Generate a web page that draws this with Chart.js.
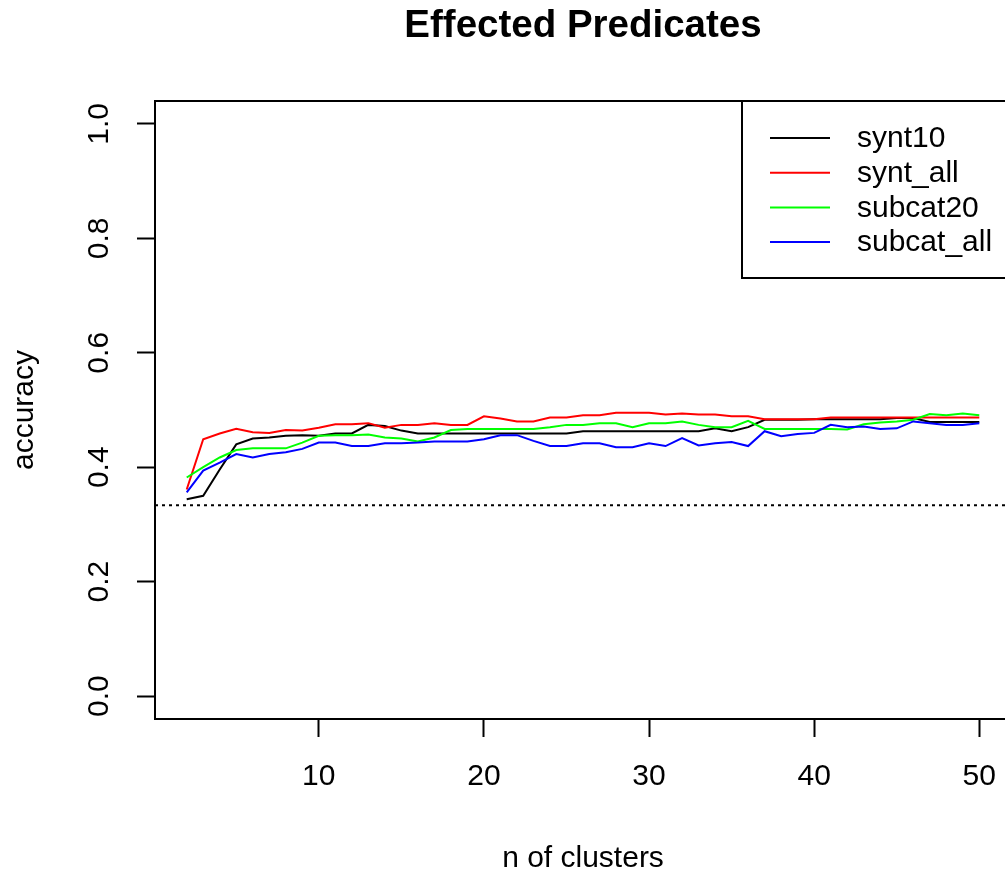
<!DOCTYPE html>
<html>
<head>
<meta charset="utf-8">
<script src="https://cdn.jsdelivr.net/npm/chart.js@4.4.1/dist/chart.umd.min.js"></script>
<style>
html, body { margin: 0; padding: 0; background: #fff; overflow: hidden; }
canvas { display: block; }
</style>
</head>
<body>
<!-- R device is a little wider than the window, so the right edge of the box is cut off -->
<canvas id="effectedPredicates" width="1011" height="873"></canvas>
<script>
// values, one entry per number of clusters
var nClusters = [2, 3, 4, 5, 6, 7, 8, 9, 10, 11, 12, 13, 14, 15, 16, 17, 18, 19, 20, 21, 22, 23, 24, 25, 26,
	27, 28, 29, 30, 31, 32, 33, 34, 35, 36, 37, 38, 39, 40, 41, 42, 43, 44, 45, 46, 47, 48, 49, 50];

var synt10 = [0.344, 0.350, 0.396, 0.440, 0.450, 0.452, 0.455, 0.456, 0.455, 0.459, 0.459, 0.474, 0.472,
	0.464, 0.459, 0.459, 0.459, 0.459, 0.459, 0.459, 0.459, 0.459, 0.459, 0.459, 0.463, 0.463, 0.463, 0.463,
	0.463, 0.463, 0.463, 0.463, 0.468, 0.463, 0.470, 0.483, 0.483, 0.483, 0.484, 0.484, 0.484, 0.484, 0.484,
	0.486, 0.486, 0.479, 0.479, 0.479, 0.479];

var syntAll = [0.361, 0.449, 0.459, 0.467, 0.461, 0.460, 0.465, 0.464, 0.469, 0.475, 0.475, 0.477, 0.469,
	0.474, 0.474, 0.477, 0.474, 0.474, 0.489, 0.485, 0.480, 0.480, 0.487, 0.487, 0.491, 0.491, 0.495, 0.495,
	0.495, 0.492, 0.494, 0.492, 0.492, 0.489, 0.489, 0.484, 0.484, 0.484, 0.484, 0.487, 0.487, 0.487, 0.487,
	0.487, 0.487, 0.487, 0.487, 0.487, 0.487];

var subcat20 = [0.382, 0.400, 0.417, 0.430, 0.433, 0.433, 0.433, 0.443, 0.455, 0.456, 0.456, 0.457, 0.452,
	0.450, 0.445, 0.452, 0.465, 0.467, 0.467, 0.467, 0.467, 0.467, 0.470, 0.474, 0.474, 0.477, 0.477, 0.470,
	0.477, 0.477, 0.480, 0.474, 0.470, 0.470, 0.481, 0.467, 0.467, 0.467, 0.467, 0.467, 0.466, 0.475, 0.478,
	0.480, 0.483, 0.493, 0.491, 0.494, 0.491];

var subcatAll = [0.356, 0.394, 0.408, 0.423, 0.417, 0.423, 0.426, 0.432, 0.443, 0.443, 0.437, 0.437, 0.442,
	0.442, 0.443, 0.445, 0.445, 0.445, 0.449, 0.456, 0.456, 0.446, 0.437, 0.437, 0.442, 0.442, 0.435, 0.435,
	0.442, 0.437, 0.451, 0.438, 0.442, 0.444, 0.437, 0.463, 0.454, 0.458, 0.460, 0.474, 0.470, 0.471, 0.467,
	0.468, 0.480, 0.477, 0.474, 0.474, 0.477];

var seriesNames = ['synt10', 'synt_all', 'subcat20', 'subcat_all'];
var seriesColors = ['#000000', '#ff0000', '#00ff00', '#0000ff'];
var xTicks = [10, 20, 30, 40, 50];
var yTicks = [0, 0.2, 0.4, 0.6, 0.8, 1.0];
var chanceLevel = 1 / 3;

var FONT = '"Liberation Sans", Arial, sans-serif';

function toPoints(values) {
	return values.map(function(v, i) { return { x: nClusters[i], y: v }; });
}

var allSeries = [synt10, syntAll, subcat20, subcatAll];
var datasets = allSeries.map(function(values, i) {
	return {
		label: seriesNames[i],
		data: toPoints(values),
		borderColor: seriesColors[i],
		borderWidth: 2,
		pointRadius: 0,
		tension: 0,
		fill: false,
		order: allSeries.length - i
	};
});

// R style box, dotted reference line, title and legend
var rDecor = {
	id: 'rDecor',
	beforeDatasetsDraw: function(chart) {
		var ctx = chart.ctx;
		var area = chart.chartArea;
		var yPix = chart.scales.y.getPixelForValue(chanceLevel);
		ctx.save();
		ctx.strokeStyle = '#000';
		ctx.lineWidth = 2;
		ctx.setLineDash([3, 4]);
		ctx.beginPath();
		ctx.moveTo(area.left, yPix);
		ctx.lineTo(area.right, yPix);
		ctx.stroke();
		ctx.restore();
	},
	afterDraw: function(chart) {
		var ctx = chart.ctx;
		var area = chart.chartArea;
		ctx.save();
		ctx.strokeStyle = '#000';
		ctx.lineWidth = 2;
		ctx.strokeRect(area.left, area.top, area.right - area.left, area.bottom - area.top);

		ctx.fillStyle = '#000';
		ctx.font = 'bold 38.5px ' + FONT;
		ctx.textAlign = 'center';
		ctx.textBaseline = 'alphabetic';
		ctx.fillText('Effected Predicates', (area.left + area.right) / 2, 37);

		// legend, top right, inset 0
		var boxLeft = area.right - 269;
		var boxTop = area.top;
		ctx.fillStyle = '#fff';
		ctx.fillRect(boxLeft, boxTop, 269, 177);
		ctx.strokeRect(boxLeft, boxTop, 269, 177);
		ctx.font = '30px ' + FONT;
		ctx.textAlign = 'left';
		ctx.textBaseline = 'middle';
		chart.data.datasets.forEach(function(ds, i) {
			var rowY = boxTop + 37 + i * 34.7;
			ctx.strokeStyle = ds.borderColor;
			ctx.beginPath();
			ctx.moveTo(boxLeft + 28, rowY);
			ctx.lineTo(boxLeft + 88, rowY);
			ctx.stroke();
			ctx.fillStyle = '#000';
			ctx.fillText(ds.label, boxLeft + 115, rowY + 1);
		});
		ctx.restore();
	}
};

function noSidePadding(scale) {
	scale.paddingLeft = 0;
	scale.paddingRight = 0;
	scale.paddingTop = 0;
	scale.paddingBottom = 0;
}

var ctx = document.getElementById('effectedPredicates').getContext('2d');
var myChart = new Chart(ctx, {
	type: 'line',
	data: { datasets: datasets },
	options: {
		responsive: false,
		animation: false,
		layout: { padding: { top: 101, right: 0, left: 0, bottom: 0 } },
		plugins: {
			legend: { display: false },
			title: { display: false },
			tooltip: { enabled: false }
		},
		scales: {
			x: {
				type: 'linear',
				min: 0.08,
				max: 51.92,
				afterFit: function(scale) { scale.height = 154; noSidePadding(scale); },
				afterBuildTicks: function(scale) {
					scale.ticks = xTicks.map(function(v) { return { value: v }; });
				},
				grid: { display: true, drawOnChartArea: false, drawTicks: true, tickLength: 18, tickWidth: 2, tickColor: '#000' },
				border: { display: false },
				ticks: {
					autoSkip: false,
					maxRotation: 0,
					padding: 22,
					color: '#000',
					font: { family: FONT, size: 30 }
				},
				title: {
					display: true,
					text: 'n of clusters',
					color: '#000',
					font: { family: FONT, size: 30 },
					padding: { top: 0, bottom: -4 }
				}
			},
			y: {
				type: 'linear',
				min: -0.04,
				max: 1.04,
				afterFit: function(scale) { scale.width = 155; noSidePadding(scale); },
				afterBuildTicks: function(scale) {
					scale.ticks = yTicks.map(function(v) { return { value: v }; });
				},
				grid: { display: true, drawOnChartArea: false, drawTicks: true, tickLength: 18, tickWidth: 2, tickColor: '#000' },
				border: { display: false },
				ticks: {
					autoSkip: false,
					minRotation: 90,
					maxRotation: 90,
					crossAlign: 'center',
					padding: 16,
					color: '#000',
					font: { family: FONT, size: 30 },
					callback: function(value) { return value.toFixed(1); }
				},
				title: {
					display: true,
					text: 'accuracy',
					color: '#000',
					font: { family: FONT, size: 30 },
					padding: { top: 7, bottom: 0 }
				}
			}
		}
	},
	plugins: [rDecor]
});
</script>
</body>
</html>
